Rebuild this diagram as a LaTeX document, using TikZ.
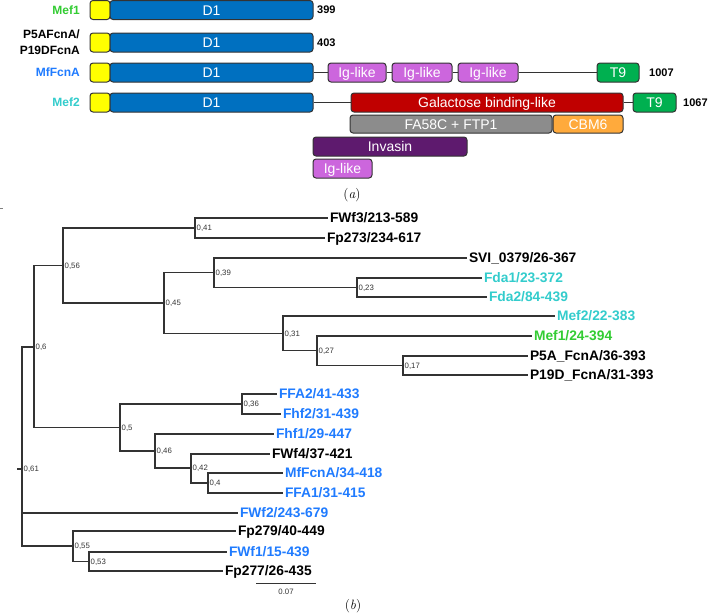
\documentclass[tikz,border=0pt]{standalone}
\usepackage{fontspec}
\newfontfamily\arial{Liberation Sans}
\definecolor{lgreen}{HTML}{33CC33}
\definecolor{lblue}{HTML}{1F7BFF}
\definecolor{lcyan}{HTML}{33CCCC}
\definecolor{dblue}{HTML}{0070C0}
\definecolor{dyellow}{HTML}{FFFF00}
\definecolor{digl}{HTML}{CC66DD}
\definecolor{dt9}{HTML}{00B050}
\definecolor{dred}{HTML}{C00000}
\definecolor{dgray}{HTML}{8C8C8C}
\definecolor{dorange}{HTML}{FFAA3C}
\definecolor{dinv}{HTML}{5E1A6E}
\definecolor{ln}{HTML}{333333}
\begin{document}
\begin{tikzpicture}[x=1pt,y=-1pt,
  dom/.style={draw=ln, rounded corners=3pt, line width=1pt, minimum height=19pt, inner sep=0pt,
    text=white, font=\arial\fontsize{14}{16}\selectfont, text height=10pt, text depth=0pt},
  conn/.style={draw=ln, line width=1pt},
  rowlabtwo/.style={anchor=east, inner sep=0pt, font=\arial\bfseries\fontsize{12}{16}\selectfont},
  rowlab/.style={rowlabtwo, text height=8.6pt, text depth=0pt},
  numlab/.style={anchor=west, inner sep=0pt, font=\arial\bfseries\fontsize{11}{13}\selectfont, text height=7.9pt, text depth=0pt},
  leaf/.style={anchor=west, inner sep=1.8pt, font=\arial\bfseries\fontsize{13.8}{15}\selectfont, text height=9.9pt, text depth=0pt},
  val/.style={anchor=west, inner sep=1.5pt, font=\arial\fontsize{7.8}{8}\selectfont, text=ln, text height=5.6pt, text depth=0pt},
  br/.style={draw=ln, line width=1.15pt},
  captext/.style={font=\fontsize{13.5}{15}\selectfont}
]
\useasboundingbox (0,0) rectangle (708,613);

% ---------- panel (a) ----------
% Mef1
\node[rowlab, text=lgreen] (lMef1) at (80,10) {Mef1};
\node[dom, fill=dyellow, minimum width=20pt] (y1) at (100,10) {};
\node[dom, fill=dblue, minimum width=203pt] (d1a) at (211.5,10) {D1};
\node[numlab] (n399) at (317,10) {399};
% P5A
\node[rowlabtwo, align=right] (lP5A) at (80,42.5) {P5AFcnA/\\P19DFcnA};
\node[dom, fill=dyellow, minimum width=20pt] (y2) at (100,42.5) {};
\node[dom, fill=dblue, minimum width=203pt] (d1b) at (211.5,42.5) {D1};
\node[numlab] (n403) at (317,42.5) {403};
% MfFcnA
\node[rowlab, text=lblue] (lMf) at (80,72.5) {MfFcnA};
\node[dom, fill=dyellow, minimum width=20pt] (y3) at (100,72.5) {};
\node[dom, fill=dblue, minimum width=203pt] (d1c) at (211.5,72.5) {D1};
\node[dom, fill=digl, minimum width=58pt] (ig1) at (357,72.5) {Ig-like};
\node[dom, fill=digl, minimum width=60pt] (ig2) at (422,72.5) {Ig-like};
\node[dom, fill=digl, minimum width=60pt] (ig3) at (488,72.5) {Ig-like};
\node[dom, fill=dt9, minimum width=42pt] (t9a) at (618,72.5) {T9};
\node[numlab] (n1007) at (649,72.5) {1007};
\draw[conn] (d1c.east) -- (ig1.west);
\draw[conn] (ig1.east) -- (ig2.west);
\draw[conn] (ig2.east) -- (ig3.west);
\draw[conn] (ig3.east) -- (t9a.west);
% Mef2
\node[rowlab, text=lcyan] (lMef2) at (80,102.5) {Mef2};
\node[dom, fill=dyellow, minimum width=20pt] (y4) at (100,102.5) {};
\node[dom, fill=dblue, minimum width=203pt] (d1d) at (211.5,102.5) {D1};
\node[dom, fill=dred, minimum width=272pt] (gal) at (487,102.5) {Galactose binding-like};
\node[dom, fill=dt9, minimum width=43pt] (t9b) at (654.5,102.5) {T9};
\node[numlab] (n1067) at (683,102.5) {1067};
\draw[conn] (d1d.east) -- (gal.west);
\draw[conn] (gal.east) -- (t9b.west);
% extra domains
\node[dom, fill=dgray, minimum width=202pt, minimum height=18pt] (fa) at (451,124) {FA58C + FTP1};
\node[dom, fill=dorange, minimum width=70pt, minimum height=18pt] (cbm) at (588,124) {CBM6};
\node[dom, fill=dinv, minimum width=154pt] (inv) at (390,146.5) {Invasin};
\node[dom, fill=digl, minimum width=59pt] (ig4) at (342.5,168.5) {Ig-like};
\node[captext] (capa) at (352,195) {(\textit{a})};

% ---------- panel (b) ----------
\coordinate (tick1) at (0,208);
\coordinate (tick2) at (3,208);
\draw[gray, line width=0.8pt] (tick1) -- (tick2);

% internal nodes
\coordinate (rootstem) at (17,469);
\coordinate (r) at (22,469);
\coordinate (n06) at (34,347);
\coordinate (n056) at (63,265.5);
\coordinate (n041) at (195,228);
\coordinate (n045) at (164,303);
\coordinate (n039) at (214,272.5);
\coordinate (n023) at (357,287.5);
\coordinate (n031) at (283,333.5);
\coordinate (n027) at (317,350.5);
\coordinate (n017) at (403,365.5);
\coordinate (n05) at (120,427.5);
\coordinate (n036) at (242,404);
\coordinate (n046) at (155,451);
\coordinate (n042) at (191,468);
\coordinate (n04) at (208,483);
\coordinate (n055) at (73,546);
\coordinate (n053) at (89,561.5);

% leaves
\node[leaf] (FWf3) at (328,218) {FWf3/213-589};
\node[leaf] (Fp273) at (325,238) {Fp273/234-617};
\node[leaf] (SVI) at (467,258) {SVI\_0379/26-367};
\node[leaf, text=lcyan] (Fda1) at (482,278) {Fda1/23-372};
\node[leaf, text=lcyan] (Fda2) at (487,297) {Fda2/84-439};
\node[leaf, text=lcyan] (Mef2l) at (555,316) {Mef2/22-383};
\node[leaf, text=lgreen] (Mef1l) at (532,336) {Mef1/24-394};
\node[leaf] (P5A) at (528,356) {P5A\_FcnA/36-393};
\node[leaf] (P19D) at (528,375) {P19D\_FcnA/31-393};
\node[leaf, text=lblue] (FFA2) at (277,394) {FFA2/41-433};
\node[leaf, text=lblue] (Fhf2) at (281,414) {Fhf2/31-439};
\node[leaf, text=lblue] (Fhf1) at (274,434) {Fhf1/29-447};
\node[leaf] (FWf4) at (270,454) {FWf4/37-421};
\node[leaf, text=lblue] (MfL) at (283,473) {MfFcnA/34-418};
\node[leaf, text=lblue] (FFA1) at (283,493) {FFA1/31-415};
\node[leaf, text=lblue] (FWf2) at (238,513) {FWf2/243-679};
\node[leaf] (Fp279) at (236,531) {Fp279/40-449};
\node[leaf, text=lblue] (FWf1) at (227,552) {FWf1/15-439};
\node[leaf] (Fp277) at (223,571) {Fp277/26-435};

% branches
\draw[br] (rootstem) -- (r);
\draw[br] (r) |- (n06);
\draw[br] (r) |- (FWf2.west);
\draw[br] (r) |- (n055);
\draw[br] (n06) |- (n056);
\draw[br] (n06) |- (n05);
\draw[br] (n056) |- (n041);
\draw[br] (n056) |- (n045);
\draw[br] (n041) |- (FWf3.west);
\draw[br] (n041) |- (Fp273.west);
\draw[br] (n045) |- (n039);
\draw[br] (n045) |- (n031);
\draw[br] (n039) |- (SVI.west);
\draw[br] (n039) |- (n023);
\draw[br] (n023) |- (Fda1.west);
\draw[br] (n023) |- (Fda2.west);
\draw[br] (n031) |- (Mef2l.west);
\draw[br] (n031) |- (n027);
\draw[br] (n027) |- (Mef1l.west);
\draw[br] (n027) |- (n017);
\draw[br] (n017) |- (P5A.west);
\draw[br] (n017) |- (P19D.west);
\draw[br] (n05) |- (n036);
\draw[br] (n05) |- (n046);
\draw[br] (n036) |- (FFA2.west);
\draw[br] (n036) |- (Fhf2.west);
\draw[br] (n046) |- (Fhf1.west);
\draw[br] (n046) |- (n042);
\draw[br] (n042) |- (FWf4.west);
\draw[br] (n042) |- (n04);
\draw[br] (n04) |- (MfL.west);
\draw[br] (n04) |- (FFA1.west);
\draw[br] (n055) |- (Fp279.west);
\draw[br] (n055) |- (n053);
\draw[br] (n053) |- (FWf1.west);
\draw[br] (n053) |- (Fp277.west);

% support values
\node[val] (v061) at (r) {0,61};
\node[val] (v06) at (n06) {0,6};
\node[val] (v056) at (n056) {0,56};
\node[val] (v041) at (n041) {0,41};
\node[val] (v045) at (n045) {0,45};
\node[val] (v039) at (n039) {0,39};
\node[val] (v023) at (n023) {0,23};
\node[val] (v031) at (n031) {0,31};
\node[val] (v027) at (n027) {0,27};
\node[val] (v017) at (n017) {0,17};
\node[val] (v05) at (n05) {0,5};
\node[val] (v036) at (n036) {0,36};
\node[val] (v046) at (n046) {0,46};
\node[val] (v042) at (n042) {0,42};
\node[val] (v04) at (n04) {0,4};
\node[val] (v055) at (n055) {0,55};
\node[val] (v053) at (n053) {0,53};

% scale bar
\coordinate (sb1) at (256,583);
\coordinate (sb2) at (316,583);
\draw[draw=ln, line width=0.8pt] (sb1) -- (sb2);
\node[val, anchor=center] (sblab) at (286,591.5) {0.07};
\node[captext] (capb) at (353,606) {(\textit{b})};
\end{tikzpicture}
\end{document}
